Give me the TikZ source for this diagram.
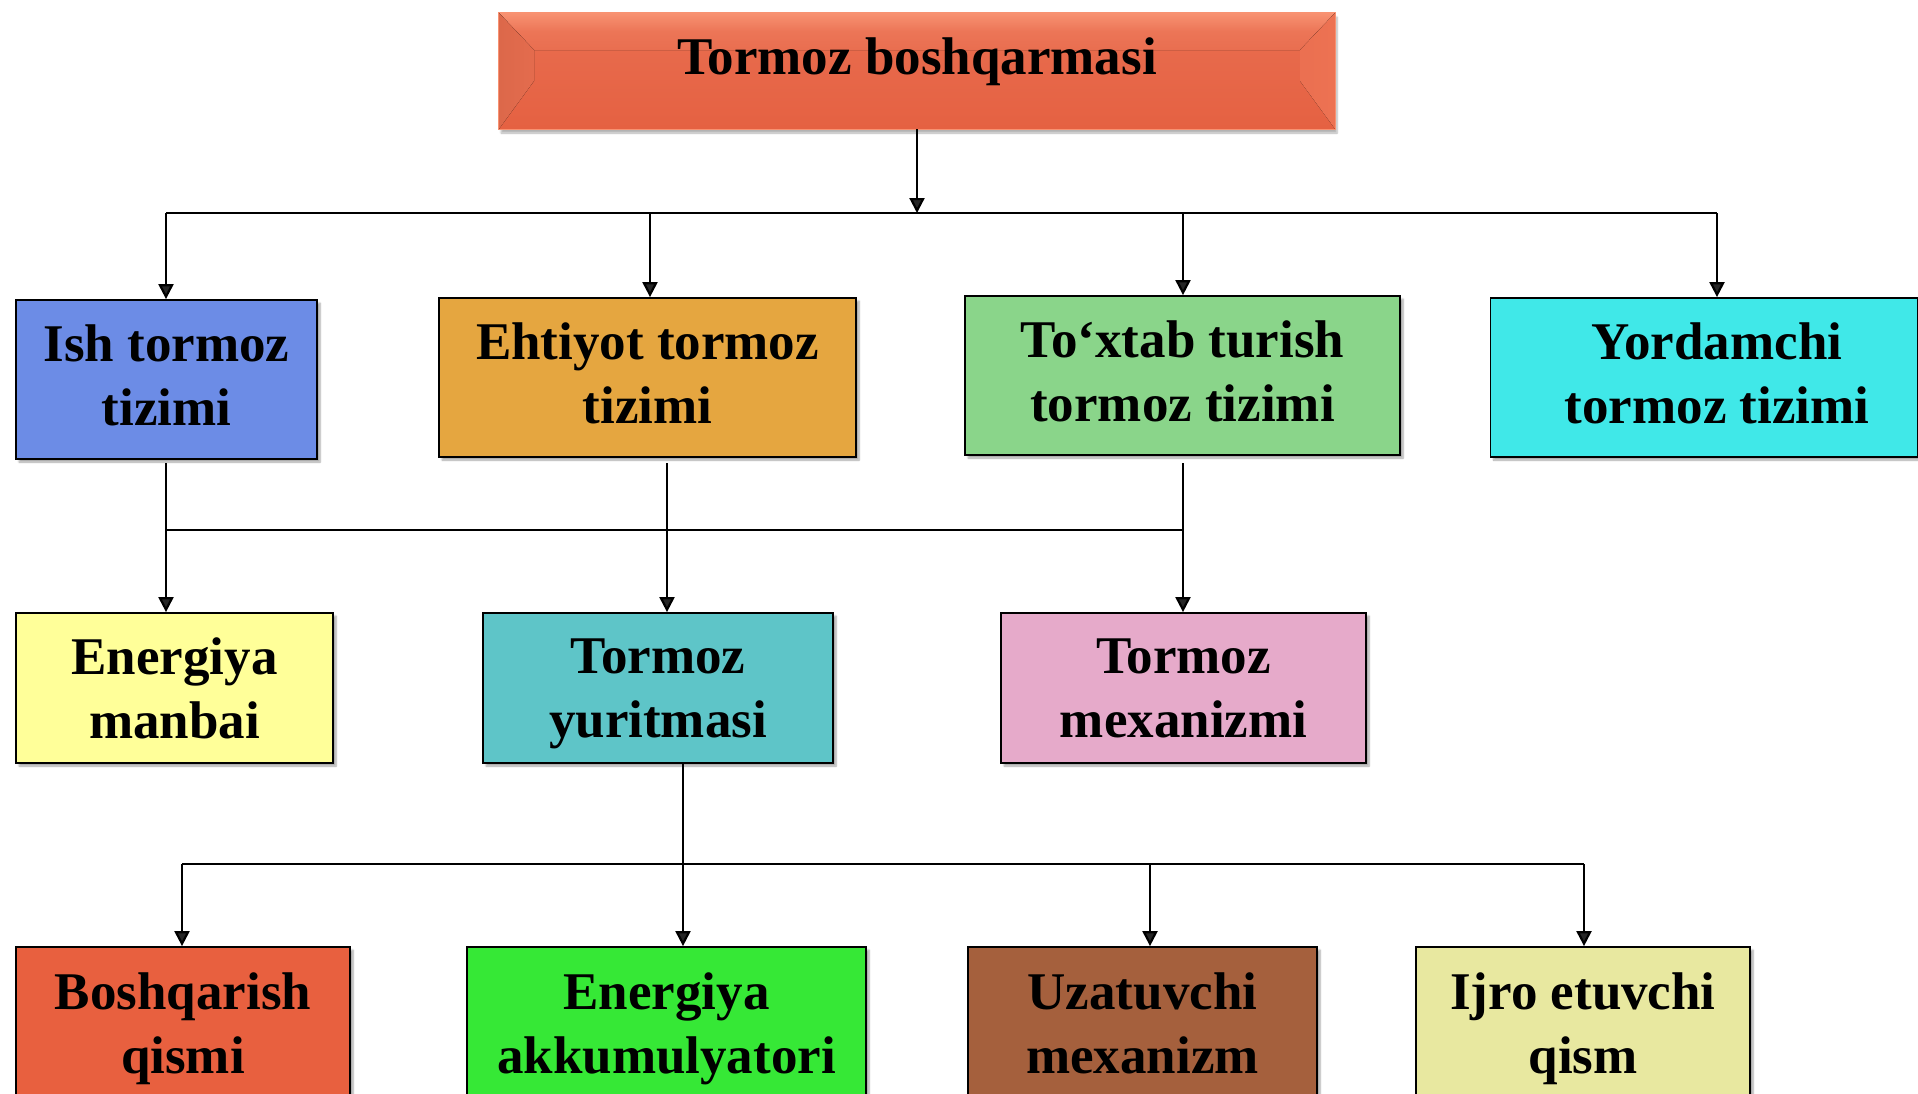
\documentclass[tikz,border=0pt]{standalone}
\usepackage{fontspec}
\setmainfont{Liberation Serif}
\usetikzlibrary{arrows.meta,shadows.blur}
\definecolor{cTopA}{RGB}{233,110,80}
\definecolor{cTopB}{RGB}{229,97,66}
\definecolor{cTopHi}{RGB}{248,146,114}
\definecolor{cTopL}{RGB}{220,104,74}
\definecolor{cTopR}{RGB}{237,114,82}
\definecolor{cIsh}{RGB}{108,140,230}
\definecolor{cEht}{RGB}{229,166,64}
\definecolor{cTox}{RGB}{138,213,138}
\definecolor{cYor}{RGB}{64,232,232}
\definecolor{cEne}{RGB}{255,255,153}
\definecolor{cYur}{RGB}{94,197,200}
\definecolor{cMex}{RGB}{230,170,202}
\definecolor{cBos}{RGB}{232,96,63}
\definecolor{cAkk}{RGB}{54,232,54}
\definecolor{cUza}{RGB}{165,96,61}
\definecolor{cIjr}{RGB}{232,232,160}
\newcommand\lastln[2][0pt]{\raisebox{0pt}[\height][#1]{#2}}
\begin{document}
\begin{tikzpicture}[x=1pt,y=-1pt,
  lbl/.style={inner sep=0pt, align=center, font=\fontsize{53}{64}\selectfont\bfseries},
  box/.style={lbl, draw=black, line width=1.8pt,
    blur shadow={shadow xshift=3pt, shadow yshift=-3pt, shadow blur steps=6, shadow opacity=35}},
  conn/.style={line width=2.2pt},
  arr/.style={conn, -{Triangle[length=15pt,width=15pt]}}]
\useasboundingbox (0,0) rectangle (1918,1093);
\clip (0,0) rectangle (1918,1093);

% top box with bevel
\path[blur shadow={shadow xshift=2pt, shadow yshift=-4pt, shadow blur steps=6, shadow opacity=30},
      top color=cTopA, bottom color=cTopB] (499,13) rectangle (1335,129);
\node[inner sep=0pt, minimum width=836pt, minimum height=116pt] (top) at (917,71) {};
\fill[top color=cTopHi, bottom color=cTopA, middle color=cTopA!80!cTopHi] (top.north west) -- (top.north east) -- (1300,50) -- (534,50) -- cycle;
\fill[left color=cTopL, right color=cTopA!60!cTopL] (top.north west) -- (534,50) -- (534,81) -- (top.south west) -- cycle;
\fill[right color=cTopR, left color=cTopA!60!cTopR] (top.north east) -- (1300,50) -- (1300,81) -- (top.south east) -- cycle;
\draw[line width=0.8pt, cTopHi] (top.north west) rectangle (top.south east);
\node[lbl] (toptext) at (917,62) {Tormoz boshqarmasi};

% row 2
\node[box, fill=cIsh, minimum width=301pt, minimum height=159pt] (ish) at (166.5,379.5) {Ish tormoz\\\lastln[8pt]{tizimi}};
\node[box, fill=cEht, minimum width=417pt, minimum height=159pt] (eht) at (647.5,377.5) {Ehtiyot tormoz\\\lastln[8pt]{tizimi}};
\node[box, fill=cTox, minimum width=435pt, minimum height=159pt] (tox) at (1182.5,375.5) {To‘xtab turish\\\lastln[8pt]{tormoz tizimi}};
\node[box, fill=cYor, minimum width=427pt, minimum height=159pt] (yor) at (1704,377.5) {\hspace*{26pt}Yordamchi\\\lastln[8pt]{\hspace*{26pt}tormoz tizimi}};

% row 3
\node[box, fill=cEne, minimum width=317pt, minimum height=150pt] (ene) at (174.5,688) {Energiya\\\lastln{manbai}};
\node[box, fill=cYur, minimum width=350pt, minimum height=150pt] (yur) at (658,688) {Tormoz\\\lastln{yuritmasi}};
\node[box, fill=cMex, minimum width=365pt, minimum height=150pt] (mex) at (1183.5,688) {Tormoz\\\lastln{mexanizmi}};

% row 4
\node[box, fill=cBos, minimum width=334pt, minimum height=152pt] (bos) at (183,1023) {Boshqarish\\\lastln{qismi}};
\node[box, fill=cAkk, minimum width=399pt, minimum height=152pt] (akk) at (666.5,1023) {Energiya\\\lastln{akkumulyatori}};
\node[box, fill=cUza, minimum width=349pt, minimum height=152pt] (uza) at (1142.5,1023) {Uzatuvchi\\\lastln{mexanizm}};
\node[box, fill=cIjr, minimum width=334pt, minimum height=152pt] (ijr) at (1583,1023) {Ijro etuvchi\\\lastln{qism}};

% bus 1
\coordinate (b1) at (917,213);
\coordinate (b1a) at (166,213);
\coordinate (b1b) at (650,213);
\coordinate (b1c) at (1183,213);
\coordinate (b1d) at (1717,213);
\draw[arr] (top.south) -- (b1);
\draw[conn] (b1a) -- (b1d);
\draw[arr] (b1a) -- (b1a |- ish.north);
\draw[arr] (b1b) -- (b1b |- eht.north);
\draw[arr] (b1c) -- (b1c |- tox.north);
\draw[arr] (b1d) -- (b1d |- yor.north);

% bus 2
\coordinate (s2a) at (166,463);
\coordinate (s2b) at (667,463);
\coordinate (s2c) at (1183,463);
\coordinate (b2a) at (166,530);
\coordinate (b2c) at (1183,530);
\draw[conn] (b2a) -- (b2c);
\draw[arr] (s2a) -- (s2a |- ene.north);
\draw[arr] (s2b) -- (s2b |- yur.north);
\draw[arr] (s2c) -- (s2c |- mex.north);

% bus 3
\coordinate (s3) at (683,763);
\coordinate (b3a) at (182,864);
\coordinate (b3b) at (683,864);
\coordinate (b3c) at (1150,864);
\coordinate (b3d) at (1584,864);
\draw[conn] (s3) -- (b3b);
\draw[conn] (b3a) -- (b3d);
\draw[arr] (b3a) -- (b3a |- bos.north);
\draw[arr] (b3b) -- (b3b |- akk.north);
\draw[arr] (b3c) -- (b3c |- uza.north);
\draw[arr] (b3d) -- (b3d |- ijr.north);
\end{tikzpicture}
\end{document}
